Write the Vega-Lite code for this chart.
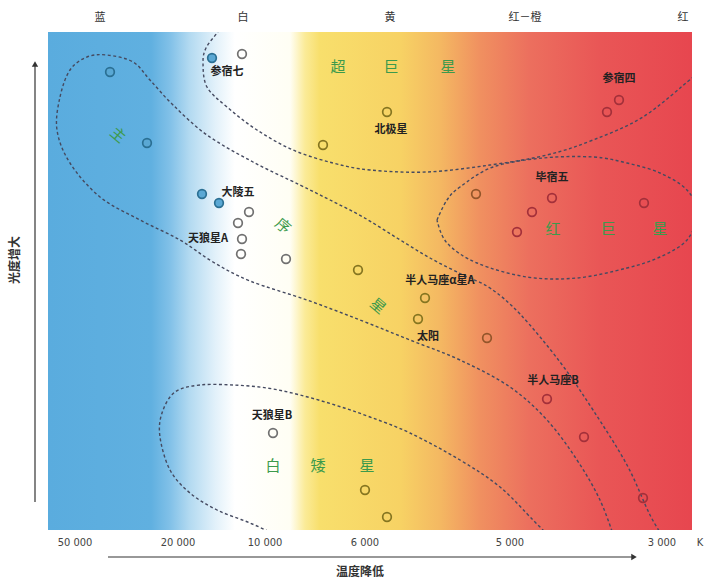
{
  "$schema": "https://vega.github.io/schema/vega-lite/v6.json",
  "width": 644,
  "height": 498,
  "autosize": {"type": "none"},
  "padding": {"left": 48, "top": 32, "right": 14, "bottom": 50},
  "background": "white",
  "config": {"view": {"stroke": null}, "font": "Noto Sans CJK SC"},
  "datasets": {
    "bg": [{"x": 0, "x2": 161, "y": 0, "y2": 124.5}],
    "curves": [
      {"c": "A", "i": 0, "x": 43.5, "y": 126.25},
      {"c": "A", "i": 1, "x": 42.25, "y": 124.25},
      {"c": "A", "i": 2, "x": 39.5, "y": 120.5},
      {"c": "A", "i": 3, "x": 38.75, "y": 116.75},
      {"c": "A", "i": 4, "x": 39.75, "y": 110.75},
      {"c": "A", "i": 5, "x": 44.75, "y": 105.75},
      {"c": "A", "i": 6, "x": 52.25, "y": 100},
      {"c": "A", "i": 7, "x": 61.25, "y": 95},
      {"c": "A", "i": 8, "x": 71.25, "y": 91.75},
      {"c": "A", "i": 9, "x": 80.5, "y": 90},
      {"c": "A", "i": 10, "x": 94.75, "y": 89.5},
      {"c": "A", "i": 11, "x": 110.5, "y": 91.25},
      {"c": "A", "i": 12, "x": 124.75, "y": 93.75},
      {"c": "A", "i": 13, "x": 136.25, "y": 97.5},
      {"c": "A", "i": 14, "x": 148.75, "y": 103.25},
      {"c": "A", "i": 15, "x": 161, "y": 113},
      {"c": "A", "i": 16, "x": 163, "y": 114.5},
      {"c": "M", "i": 0, "x": 154.25, "y": -2.5},
      {"c": "M", "i": 1, "x": 150.5, "y": 3.75},
      {"c": "M", "i": 2, "x": 144.75, "y": 16.25},
      {"c": "M", "i": 3, "x": 136.25, "y": 30},
      {"c": "M", "i": 4, "x": 128, "y": 42},
      {"c": "M", "i": 5, "x": 118, "y": 54},
      {"c": "M", "i": 6, "x": 110.5, "y": 60.5},
      {"c": "M", "i": 7, "x": 103.75, "y": 63.75},
      {"c": "M", "i": 8, "x": 95.5, "y": 68},
      {"c": "M", "i": 9, "x": 87.25, "y": 73},
      {"c": "M", "i": 10, "x": 78.75, "y": 78.25},
      {"c": "M", "i": 11, "x": 70.5, "y": 82.5},
      {"c": "M", "i": 12, "x": 63, "y": 86.25},
      {"c": "M", "i": 13, "x": 51.25, "y": 92},
      {"c": "M", "i": 14, "x": 39.75, "y": 98.75},
      {"c": "M", "i": 15, "x": 31.25, "y": 106.25},
      {"c": "M", "i": 16, "x": 25.5, "y": 112.5},
      {"c": "M", "i": 17, "x": 21.25, "y": 117},
      {"c": "M", "i": 18, "x": 14.75, "y": 118.75},
      {"c": "M", "i": 19, "x": 9.75, "y": 118.25},
      {"c": "M", "i": 20, "x": 5.5, "y": 115},
      {"c": "M", "i": 21, "x": 3, "y": 108.25},
      {"c": "M", "i": 22, "x": 2.25, "y": 100},
      {"c": "M", "i": 23, "x": 5.5, "y": 91.75},
      {"c": "M", "i": 24, "x": 13, "y": 83.25},
      {"c": "M", "i": 25, "x": 23, "y": 77.5},
      {"c": "M", "i": 26, "x": 33, "y": 72.5},
      {"c": "M", "i": 27, "x": 41.25, "y": 67},
      {"c": "M", "i": 28, "x": 50.5, "y": 62.25},
      {"c": "M", "i": 29, "x": 64.75, "y": 57.5},
      {"c": "M", "i": 30, "x": 78, "y": 52.5},
      {"c": "M", "i": 31, "x": 90.5, "y": 47.5},
      {"c": "M", "i": 32, "x": 103, "y": 42.5},
      {"c": "M", "i": 33, "x": 115.5, "y": 35.75},
      {"c": "M", "i": 34, "x": 124.75, "y": 27.5},
      {"c": "M", "i": 35, "x": 132.25, "y": 17.5},
      {"c": "M", "i": 36, "x": 138, "y": 7.5},
      {"c": "M", "i": 37, "x": 141.75, "y": -2.5},
      {"c": "W", "i": 0, "x": 125, "y": -1.25},
      {"c": "W", "i": 1, "x": 121.25, "y": 2.5},
      {"c": "W", "i": 2, "x": 113, "y": 10.75},
      {"c": "W", "i": 3, "x": 103, "y": 17.5},
      {"c": "W", "i": 4, "x": 90.5, "y": 24.25},
      {"c": "W", "i": 5, "x": 80.5, "y": 28.25},
      {"c": "W", "i": 6, "x": 71.75, "y": 31.25},
      {"c": "W", "i": 7, "x": 63, "y": 33.75},
      {"c": "W", "i": 8, "x": 54.75, "y": 35.5},
      {"c": "W", "i": 9, "x": 46.25, "y": 36.25},
      {"c": "W", "i": 10, "x": 38, "y": 36.25},
      {"c": "W", "i": 11, "x": 31.75, "y": 34.5},
      {"c": "W", "i": 12, "x": 28.5, "y": 29.25},
      {"c": "W", "i": 13, "x": 28, "y": 23.25},
      {"c": "W", "i": 14, "x": 30.5, "y": 15},
      {"c": "W", "i": 15, "x": 35.5, "y": 9.25},
      {"c": "W", "i": 16, "x": 42.25, "y": 5},
      {"c": "W", "i": 17, "x": 50.5, "y": 1.75},
      {"c": "W", "i": 18, "x": 58.75, "y": -2},
      {"c": "R", "i": 0, "x": 97.25, "y": 77.5},
      {"c": "R", "i": 1, "x": 99.75, "y": 82.5},
      {"c": "R", "i": 2, "x": 103, "y": 85.75},
      {"c": "R", "i": 3, "x": 111.25, "y": 90.75},
      {"c": "R", "i": 4, "x": 123.75, "y": 93},
      {"c": "R", "i": 5, "x": 136.25, "y": 93.25},
      {"c": "R", "i": 6, "x": 144.75, "y": 91.75},
      {"c": "R", "i": 7, "x": 153, "y": 89.25},
      {"c": "R", "i": 8, "x": 159.75, "y": 85},
      {"c": "R", "i": 9, "x": 162.25, "y": 79.25},
      {"c": "R", "i": 10, "x": 159.75, "y": 72.5},
      {"c": "R", "i": 11, "x": 153, "y": 68.25},
      {"c": "R", "i": 12, "x": 144.75, "y": 65.5},
      {"c": "R", "i": 13, "x": 132.25, "y": 63},
      {"c": "R", "i": 14, "x": 119.75, "y": 63.25},
      {"c": "R", "i": 15, "x": 107.25, "y": 66.75},
      {"c": "R", "i": 16, "x": 99.75, "y": 71.75},
      {"c": "R", "i": 17, "x": 97.25, "y": 77.5}
    ],
    "stars": [
      {"cls": "blue", "x": 15.5, "y": 114.5},
      {"cls": "blue", "x": 24.75, "y": 96.75},
      {"cls": "blue", "x": 41, "y": 118},
      {"cls": "blue", "x": 38.5, "y": 84},
      {"cls": "blue", "x": 42.75, "y": 81.75},
      {"cls": "white", "x": 48.5, "y": 119},
      {"cls": "white", "x": 50.25, "y": 79.5},
      {"cls": "white", "x": 47.5, "y": 76.75},
      {"cls": "white", "x": 48.5, "y": 72.75},
      {"cls": "white", "x": 48.25, "y": 69},
      {"cls": "white", "x": 59.5, "y": 67.75},
      {"cls": "white", "x": 56.25, "y": 24.25},
      {"cls": "yellow", "x": 68.75, "y": 96.25},
      {"cls": "yellow", "x": 84.75, "y": 104.5},
      {"cls": "yellow", "x": 77.5, "y": 65},
      {"cls": "yellow", "x": 94.25, "y": 58},
      {"cls": "yellow", "x": 92.5, "y": 52.75},
      {"cls": "yellow", "x": 79.25, "y": 10},
      {"cls": "yellow", "x": 84.75, "y": 3.25},
      {"cls": "orange", "x": 109.75, "y": 48},
      {"cls": "orange", "x": 107, "y": 84},
      {"cls": "red", "x": 121, "y": 79.5},
      {"cls": "red", "x": 126, "y": 83},
      {"cls": "red", "x": 117.25, "y": 74.5},
      {"cls": "red", "x": 149, "y": 81.75},
      {"cls": "red", "x": 139.75, "y": 104.5},
      {"cls": "red", "x": 142.75, "y": 107.5},
      {"cls": "red", "x": 124.75, "y": 32.75},
      {"cls": "red", "x": 134, "y": 23.25},
      {"cls": "red", "x": 148.75, "y": 8}
    ],
    "names": [
      {"t": "参宿七", "x": 44.75, "y": 114.5},
      {"t": "参宿四", "x": 142.75, "y": 112.75},
      {"t": "北极星", "x": 85.75, "y": 100},
      {"t": "毕宿五", "x": 126, "y": 88},
      {"t": "大陵五", "x": 47.5, "y": 84.25},
      {"t": "天狼星A", "x": 40, "y": 72.75},
      {"t": "半人马座α星A", "x": 98, "y": 62.25},
      {"t": "太阳", "x": 95, "y": 48.25},
      {"t": "半人马座B", "x": 126.25, "y": 37.25},
      {"t": "天狼星B", "x": 56, "y": 28.5}
    ],
    "groups": [
      {"t": "超", "x": 72.5, "y": 115.75},
      {"t": "巨", "x": 85.75, "y": 115.75},
      {"t": "星", "x": 100, "y": 115.75},
      {"t": "红", "x": 126.25, "y": 75.25},
      {"t": "巨", "x": 140, "y": 75.25},
      {"t": "星", "x": 153, "y": 75.25},
      {"t": "白", "x": 56.25, "y": 16},
      {"t": "矮", "x": 67.5, "y": 16},
      {"t": "星", "x": 79.75, "y": 16}
    ],
    "mainseq": [
      {"t": "主", "x": 17.5, "y": 98.75},
      {"t": "序", "x": 58.75, "y": 76},
      {"t": "星", "x": 82.5, "y": 56}
    ],
    "colors": [
      {"t": "蓝", "x": 13, "y": 128},
      {"t": "白", "x": 48.75, "y": 128},
      {"t": "黄", "x": 85.5, "y": 128},
      {"t": "红－橙", "x": 119.25, "y": 128},
      {"t": "红", "x": 158.75, "y": 128}
    ],
    "ticks": [
      {"t": "50 000", "x": 6.75, "y": -3.25},
      {"t": "20 000", "x": 32.5, "y": -3.25},
      {"t": "10 000", "x": 54.25, "y": -3.25},
      {"t": "6 000", "x": 79.25, "y": -3.25},
      {"t": "5 000", "x": 115.5, "y": -3.25},
      {"t": "3 000", "x": 153.5, "y": -3.25},
      {"t": "K", "x": 163, "y": -3.25}
    ],
    "arrows": [
      {"a": "h", "i": 0, "x": 15, "y": -6.75},
      {"a": "h", "i": 1, "x": 146, "y": -6.75},
      {"a": "v", "i": 0, "x": -3.25, "y": 7},
      {"a": "v", "i": 1, "x": -3.25, "y": 116}
    ],
    "heads": [
      {"dir": "right", "x": 146.5, "y": -6.75},
      {"dir": "up", "x": -3.25, "y": 116.5}
    ]
  },
  "encoding": {
    "x": {"field": "x", "type": "quantitative", "scale": {"domain": [0, 161], "nice": false, "zero": false}, "axis": null},
    "y": {"field": "y", "type": "quantitative", "scale": {"domain": [0, 124.5], "nice": false, "zero": false}, "axis": null}
  },
  "layer": [
    {
      "data": {"name": "bg"},
      "mark": {
        "type": "rect",
        "fill": {
          "gradient": "linear", "x1": 0, "y1": 0, "x2": 1, "y2": 0,
          "stops": [
            {"offset": 0, "color": "#5aacde"},
            {"offset": 0.16, "color": "#60b0e0"},
            {"offset": 0.19, "color": "#82c1e8"},
            {"offset": 0.22, "color": "#b3daf1"},
            {"offset": 0.26, "color": "#e2f1fa"},
            {"offset": 0.29, "color": "#ffffff"},
            {"offset": 0.376, "color": "#fffef4"},
            {"offset": 0.399, "color": "#fbeb98"},
            {"offset": 0.422, "color": "#f8df6c"},
            {"offset": 0.547, "color": "#f7d264"},
            {"offset": 0.609, "color": "#f4b862"},
            {"offset": 0.671, "color": "#f09060"},
            {"offset": 0.748, "color": "#ec6f5e"},
            {"offset": 0.857, "color": "#e95656"},
            {"offset": 1, "color": "#e7464f"}
          ]
        }
      },
      "encoding": {"x2": {"field": "x2"}, "y2": {"field": "y2"}}
    },
    {
      "data": {"name": "curves"},
      "mark": {"type": "line", "interpolate": "cardinal", "clip": true, "stroke": "#454a60", "strokeWidth": 1.4, "strokeDash": [3, 2.5]},
      "encoding": {"detail": {"field": "c"}, "order": {"field": "i", "type": "quantitative"}}
    },
    {
      "data": {"name": "stars"},
      "mark": {"type": "point", "shape": "circle", "size": 75, "strokeWidth": 1.7, "opacity": 1},
      "encoding": {
        "fill": {"field": "cls", "type": "nominal", "legend": null, "scale": {"domain": ["blue", "white", "yellow", "orange", "red"], "range": ["#5aa8d4", "transparent", "transparent", "transparent", "transparent"]}},
        "stroke": {"field": "cls", "type": "nominal", "legend": null, "scale": {"domain": ["blue", "white", "yellow", "orange", "red"], "range": ["#2a6f93", "#707070", "#857520", "#93552a", "#a3303a"]}}
      }
    },
    {
      "data": {"name": "names"},
      "mark": {"type": "text", "fontSize": 11, "fontWeight": "bold", "color": "#222222"},
      "encoding": {"text": {"field": "t"}}
    },
    {
      "data": {"name": "groups"},
      "mark": {"type": "text", "fontSize": 15, "color": "#3c9a4c"},
      "encoding": {"text": {"field": "t"}}
    },
    {
      "data": {"name": "mainseq"},
      "mark": {"type": "text", "fontSize": 15, "color": "#3c9a4c", "angle": 40},
      "encoding": {"text": {"field": "t"}}
    },
    {
      "data": {"name": "colors"},
      "mark": {"type": "text", "fontSize": 11, "color": "#333333"},
      "encoding": {"text": {"field": "t"}}
    },
    {
      "data": {"name": "ticks"},
      "mark": {"type": "text", "fontSize": 11, "color": "#444444", "font": "Liberation Sans Narrow, DejaVu Sans Condensed, sans-serif"},
      "encoding": {"text": {"field": "t"}}
    },
    {
      "data": {"name": "arrows"},
      "mark": {"type": "line", "stroke": "#333333", "strokeWidth": 1.2},
      "encoding": {"detail": {"field": "a"}, "order": {"field": "i", "type": "quantitative"}}
    },
    {
      "data": {"name": "heads"},
      "mark": {"type": "point", "filled": true, "size": 40, "color": "#333333", "opacity": 1},
      "encoding": {"shape": {"field": "dir", "type": "nominal", "legend": null, "scale": {"domain": ["right", "up"], "range": ["triangle-right", "triangle-up"]}}}
    },
    {
      "data": {"values": [{"t": "温度降低", "x": 78, "y": -10.5}]},
      "mark": {"type": "text", "fontSize": 12, "fontWeight": "bold", "color": "#333333"},
      "encoding": {"text": {"field": "t"}}
    },
    {
      "data": {"values": [{"t": "光度增大", "x": -8.25, "y": 67.5}]},
      "mark": {"type": "text", "fontSize": 12, "fontWeight": "bold", "color": "#333333", "angle": 270},
      "encoding": {"text": {"field": "t"}}
    }
  ]
}
